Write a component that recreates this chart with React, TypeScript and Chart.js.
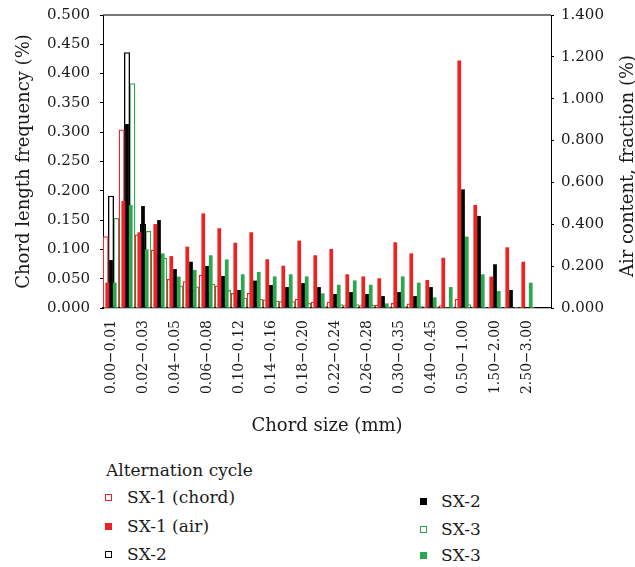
import React, { useEffect, useRef } from 'react';
import { Chart, registerables, BarController } from 'chart.js';

// A second bar type so the air-content bars form their own group,
// drawn over the chord-frequency group (as in a two-axis spreadsheet chart).
class AirBarController extends BarController {}
(AirBarController as any).id = 'airBar';

Chart.register(...registerables, AirBarController);

const categories = [
  '0.00−0.01', '0.01−0.02', '0.02−0.03', '0.03−0.04', '0.04−0.05', '0.05−0.06',
  '0.06−0.08', '0.08−0.10', '0.10−0.12', '0.12−0.14', '0.14−0.16', '0.16−0.18',
  '0.18−0.20', '0.20−0.22', '0.22−0.24', '0.24−0.26', '0.26−0.28', '0.28−0.30',
  '0.30−0.35', '0.35−0.40', '0.40−0.45', '0.45−0.50', '0.50−1.00', '1.00−1.50',
  '1.50−2.00', '2.00−2.50', '2.50−3.00', '3.00−4.00',
];

// Chord length frequency (%), left axis
const sx1Chord = [0.122, 0.304, 0.125, 0.099, 0.049, 0.045, 0.056, 0.038, 0.025, 0.025, 0.014, 0.011, 0.015, 0.010, 0.010, 0.004, 0.004, 0.005, 0.008, 0.007, 0.002, 0.004, 0.015, 0.002, 0.001, 0.001, 0.001, 0];
const sx2Chord = [0.191, 0.436, 0.143, 0.090, 0.040, 0.030, 0.025, 0.015, 0.010, 0.008, 0.006, 0.004, 0.004, 0.003, 0.003, 0.002, 0.002, 0.002, 0.002, 0.001, 0.001, 0.001, 0.004, 0.001, 0.001, 0.001, 0, 0];
const sx3Chord = [0.153, 0.383, 0.131, 0.085, 0.038, 0.036, 0.041, 0.030, 0.017, 0.015, 0.012, 0.011, 0.008, 0.003, 0.006, 0.006, 0.005, 0.002, 0.003, 0.003, 0.002, 0.002, 0.006, 0.001, 0.001, 0.001, 0.001, 0];

// Air content, fraction (%), right axis
const sx1Air = [0.121, 0.511, 0.362, 0.401, 0.248, 0.293, 0.452, 0.381, 0.312, 0.362, 0.233, 0.202, 0.322, 0.252, 0.282, 0.161, 0.151, 0.142, 0.314, 0.261, 0.134, 0.240, 1.182, 0.492, 0.150, 0.290, 0.221, 0];
const sx2Air = [0.229, 0.879, 0.487, 0.420, 0.186, 0.221, 0.201, 0.153, 0.086, 0.131, 0.110, 0.100, 0.119, 0.100, 0.067, 0.076, 0.067, 0.057, 0.076, 0.057, 0.100, 0, 0.567, 0.440, 0.209, 0.086, 0, 0];
const sx3Air = [0.121, 0.492, 0.280, 0.261, 0.150, 0.182, 0.252, 0.232, 0.161, 0.172, 0.151, 0.161, 0.151, 0.070, 0.111, 0.132, 0.111, 0.022, 0.151, 0.121, 0.051, 0.100, 0.341, 0.161, 0.081, 0, 0.121, 0];

const RED = '#ed2226';
const GREEN = '#2aa84c';
const BLACK = '#000000';
const TEXT = '#1a1a1a';
const FONT = "'DejaVu Serif', serif";

const legendTitle = 'Alternation cycle';
const legendItems = [
  { label: 'SX-1 (chord)', color: RED, filled: false, x: 108, y: 497, tx: 127 },
  { label: 'SX-1 (air)', color: RED, filled: true, x: 108, y: 526, tx: 127 },
  { label: 'SX-2', color: BLACK, filled: false, x: 108, y: 554, tx: 127 },
  { label: 'SX-2', color: BLACK, filled: true, x: 423, y: 501, tx: 441 },
  { label: 'SX-3', color: GREEN, filled: false, x: 423, y: 529, tx: 441 },
  { label: 'SX-3', color: GREEN, filled: true, x: 423, y: 555, tx: 441 },
];

export default function App() {
  const ref = useRef<HTMLCanvasElement>(null);

  useEffect(() => {
    const canvas = ref.current;
    if (!canvas) return;

    const rightTitle = {
      id: 'rightTitle',
      afterDraw(chart: any) {
        const ctx = chart.ctx;
        ctx.save();
        ctx.translate(628, 166);
        ctx.rotate(-Math.PI / 2);
        ctx.font = `18px ${FONT}`;
        ctx.fillStyle = TEXT;
        ctx.textAlign = 'center';
        ctx.textBaseline = 'middle';
        ctx.fillText('Air content, fraction (%)', 0, 0);
        ctx.restore();
      },
    };

    const topFrame = {
      id: 'topFrame',
      afterDatasetsDraw(chart: any) {
        const { ctx, chartArea } = chart;
        ctx.save();
        ctx.strokeStyle = '#4a4a4a';
        ctx.lineWidth = 1.7;
        ctx.beginPath();
        ctx.moveTo(chartArea.left, chartArea.top);
        ctx.lineTo(chartArea.right, chartArea.top);
        ctx.stroke();
        ctx.restore();
      },
    };

    const hollow = (label: string, data: number[], color: string) => ({
      type: 'bar',
      label,
      data,
      xAxisID: 'x',
      yAxisID: 'y',
      backgroundColor: '#ffffff',
      borderColor: color,
      borderWidth: 1.3,
      categoryPercentage: 1,
      barPercentage: 1,
      order: 1,
    });
    const filled = (label: string, data: number[], color: string) => ({
      type: 'airBar',
      label,
      data,
      xAxisID: 'x',
      yAxisID: 'y2',
      backgroundColor: color,
      borderWidth: 0,
      categoryPercentage: 0.7,
      barPercentage: 1,
      order: 0,
    });

    const tickFont = { family: FONT, size: 15, lineHeight: 0.6 };

    const chart = new Chart(canvas, {
      type: 'bar',
      data: {
        labels: categories,
        datasets: [
          hollow('SX-1 (chord)', sx1Chord, RED),
          filled('SX-1 (air)', sx1Air, RED),
          hollow('SX-2', sx2Chord, BLACK),
          filled('SX-2', sx2Air, BLACK),
          hollow('SX-3', sx3Chord, GREEN),
          filled('SX-3', sx3Air, GREEN),
        ] as any,
      },
      options: {
        responsive: false,
        animation: false,
        layout: { padding: { left: 0, right: 0, top: 15, bottom: 0 } },
        plugins: {
          legend: { display: false },
          tooltip: { enabled: false },
        },
        scales: {
          x: {
            type: 'category',
            position: 'bottom',
            offset: true,
            grid: { display: true, drawOnChartArea: false, drawTicks: false },
            border: { display: true, color: BLACK, width: 1.3 },
            ticks: {
              autoSkip: false,
              minRotation: 90,
              maxRotation: 90,
              padding: 12,
              color: TEXT,
              font: { family: FONT, size: 14 },
              callback: (_v: any, i: number) => (i % 2 === 0 ? categories[i] : ''),
            },
            title: {
              display: true,
              text: 'Chord size (mm)',
              color: TEXT,
              font: { family: FONT, size: 18 },
              padding: { top: 0, bottom: 3 },
            },
            afterFit: (s: any) => { s.height = 132; },
          },
          y: {
            position: 'left',
            min: 0,
            max: 0.5,
            grid: { display: true, drawOnChartArea: false, drawTicks: true, tickLength: 3, color: BLACK },
            border: { display: true, color: BLACK, width: 1 },
            ticks: {
              stepSize: 0.05,
              padding: 10,
              color: TEXT,
              font: tickFont,
              callback: (v: any) => Number(v).toFixed(3),
            },
            title: {
              display: true,
              text: 'Chord length frequency (%)',
              color: TEXT,
              font: { family: FONT, size: 18 },
              padding: { top: 14, bottom: 0 },
            },
            afterFit: (s: any) => { s.width = 103; },
          },
          y2: {
            position: 'right',
            min: 0,
            max: 1.4,
            grid: { display: true, drawOnChartArea: false, drawTicks: true, tickLength: 3, color: BLACK },
            border: { display: true, color: BLACK, width: 1 },
            ticks: {
              stepSize: 0.2,
              padding: 7,
              color: TEXT,
              font: tickFont,
              callback: (v: any) => Number(v).toFixed(3),
            },
            afterFit: (s: any) => { s.width = 84; },
          },
        },
      } as any,
      plugins: [rightTitle, topFrame],
    });

    return () => chart.destroy();
  }, []);

  return (
    <div style={{ position: 'absolute', left: 0, top: 0, width: 635, height: 567, background: '#fff', overflow: 'hidden' }}>
      <canvas ref={ref} width={635} height={440} style={{ display: 'block' }} />
      <div
        style={{
          position: 'absolute', left: 106, top: 460, height: 20, lineHeight: '20px',
          fontFamily: FONT, fontSize: 17, color: TEXT, whiteSpace: 'nowrap',
        }}
      >
        {legendTitle}
      </div>
      {legendItems.map((it, i) => (
        <React.Fragment key={i}>
          <div
            style={{
              position: 'absolute', left: it.x - 3.5, top: it.y - 3.5, width: 7, height: 7,
              boxSizing: 'border-box',
              background: it.filled ? it.color : '#fff',
              border: `1.4px solid ${it.color}`,
            }}
          />
          <div
            style={{
              position: 'absolute', left: it.tx, top: it.y - 10, height: 20, lineHeight: '20px',
              fontFamily: FONT, fontSize: 17, color: TEXT, whiteSpace: 'nowrap',
            }}
          >
            {it.label}
          </div>
        </React.Fragment>
      ))}
    </div>
  );
}
